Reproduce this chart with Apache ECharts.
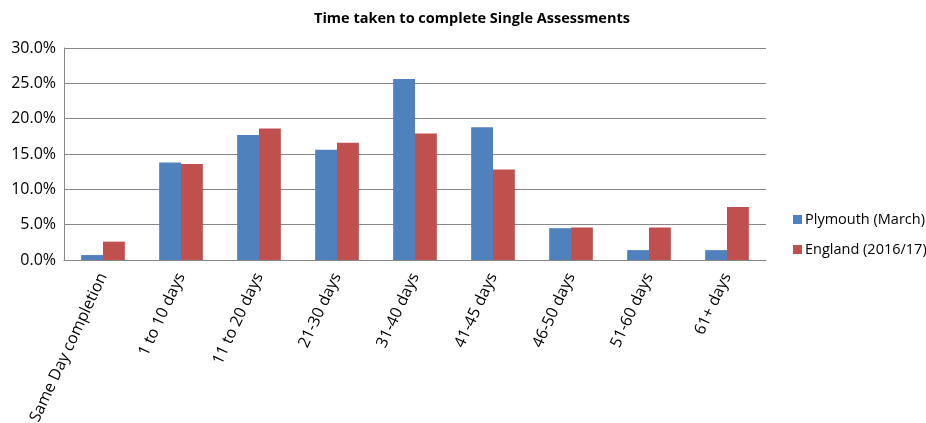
<!DOCTYPE html>
<html>
<head>
<meta charset="utf-8">
<script src="https://cdn.jsdelivr.net/npm/echarts@6/dist/echarts.min.js"></script>
<style>html,body{margin:0;padding:0;background:#fff;}#c{width:926px;height:423px;}</style>
</head>
<body>
<div id="c"></div>
<script>
const categories = ['Same Day completion','1 to 10 days','11 to 20 days','21-30 days','31-40 days','41-45 days','46-50 days','51-60 days','61+ days'];
const plymouth = [0.7, 13.8, 17.7, 15.6, 25.6, 18.8, 4.5, 1.4, 1.4];
const england = [2.6, 13.6, 18.6, 16.6, 17.9, 12.8, 4.6, 4.6, 7.5];
const seriesNames = ['Plymouth (March)', 'England (2016/17)'];
const yTicks = [0, 5, 10, 15, 20, 25, 30];

const FONT = 'Open Sans';
const chart = echarts.init(document.getElementById('c'));
chart.setOption({
  animation: false,
  textStyle: { fontFamily: FONT },
  title: {
    text: 'Time taken to complete Single Assessments',
    left: 467, top: 6, textAlign: 'center',
    textStyle: { fontFamily: FONT, fontSize: 14.5, fontWeight: 'bold', color: '#000' }
  },
  legend: {
    orient: 'vertical', left: 788, top: 207, itemGap: 15,
    itemWidth: 9, itemHeight: 9, icon: 'rect',
    textStyle: { fontFamily: FONT, fontSize: 14.5, color: '#000', padding: [0,0,0,-2] },
    data: seriesNames
  },
  grid: { left: 64, right: 160, top: 48, bottom: 163, containLabel: false, outerBoundsMode: 'none' },
  xAxis: {
    type: 'category', data: categories,
    axisLine: { lineStyle: { color: '#888', width: 1 } },
    axisTick: { show: false },
    axisLabel: { rotate: 65, margin: 14, fontSize: 16, color: '#000', fontFamily: FONT, interval: 0 }
  },
  yAxis: {
    type: 'value', min: 0, max: 30, interval: 5,
    axisLine: { show: true, lineStyle: { color: '#888' } },
    axisTick: { show: false },
    splitLine: { lineStyle: { color: '#888' } },
    axisLabel: { fontSize: 16, color: '#000', fontFamily: FONT, margin: 8,
      formatter: v => yTicks.includes(v) ? v.toFixed(1) + '%' : '' }
  },
  series: [
    { name: seriesNames[0], type: 'bar', data: plymouth, barGap: '0%', barCategoryGap: '44%',
      itemStyle: { color: '#4F81BD' } },
    { name: seriesNames[1], type: 'bar', data: england, barGap: '0%', barCategoryGap: '44%',
      itemStyle: { color: '#C0504D' } }
  ]
});
</script>
</body>
</html>
